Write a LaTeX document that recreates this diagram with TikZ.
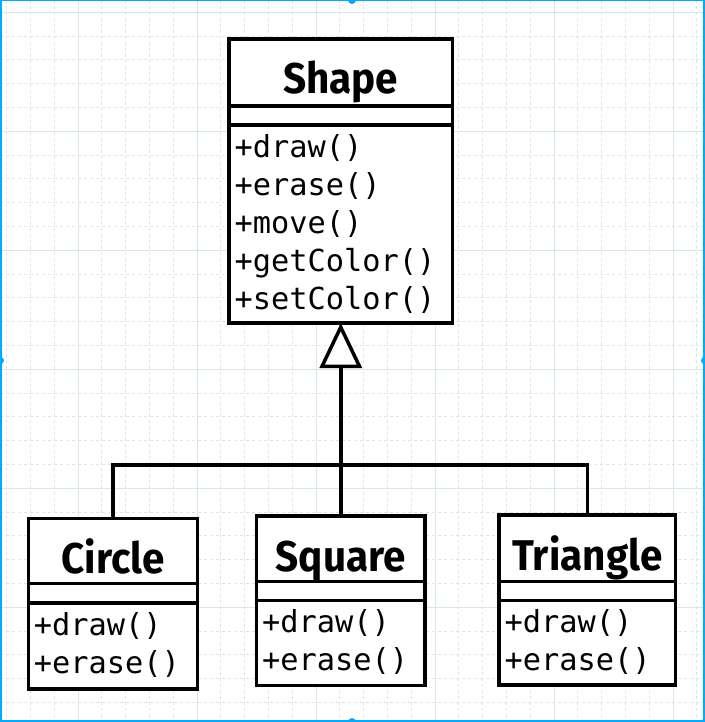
\documentclass[tikz,border=0pt]{standalone}
\usepackage{fontspec}
\newfontfamily\titlefont[FakeStretch=0.94]{Fira Sans}
\newfontfamily\monofont{DejaVu Sans Mono}
\usetikzlibrary{arrows.meta}
\definecolor{gridc}{RGB}{216,232,230}
\definecolor{selc}{RGB}{0,172,255}
\tikzset{
  classbox/.style={draw=black, line width=3.5bp, fill=white, anchor=north west, inner sep=0pt, outer sep=0pt},
  classline/.style={draw=black, line width=3.5bp},
  titletext/.style={font=\titlefont\bfseries\fontsize{43bp}{43bp}\selectfont, anchor=base, inner sep=0pt},
  methtext/.style={font=\monofont\fontsize{30.3bp}{30.3bp}\selectfont, anchor=base west, inner sep=0pt},
  conn/.style={draw=black, line width=3.5bp},
  minorgrid/.style={draw=gridc, line width=1bp, dash pattern=on 3bp off 3bp},
  majorgrid/.style={draw=gridc, line width=1bp},
}
\newcommand\umlclass[9]{%
  \node[classbox, minimum width={(#4-#2)*1bp}, minimum height={(#5-#3)*1bp}] (#1) at (#2,#3) {};
  \begin{scope}
    \clip (#2,#3) rectangle (#4,#6);
    \node[titletext] (#1-title) at ({(#2+#4)/2},{#3+55}) {#8};
  \end{scope}
  \draw[classline] (#2,#6) -- (#4,#6);
  \draw[classline] (#2,#7) -- (#4,#7);
  \foreach \m [count=\i from 0] in {#9} {\node[methtext] (#1-m\i) at ({#2+5.5},{#7+32.5+38*\i}) {\m};}
}
\begin{document}
\begin{tikzpicture}[x=1bp, y=-1bp]
\useasboundingbox (0,0) rectangle (705,722);
\fill[white] (0,0) rectangle (705,722);
% grid
\foreach \k in {0,...,29} {
  \draw[minorgrid] ({6.6+23.8*\k},0) -- ({6.6+23.8*\k},722);
  \draw[minorgrid] (0,{12.3+23.8*\k}) -- (705,{12.3+23.8*\k});
}
\foreach \k in {3,8,13,18,23,28} {
  \draw[majorgrid] ({6.6+23.8*\k},0) -- ({6.6+23.8*\k},722);
}
\foreach \k in {0,5,10,15,20,25} {
  \draw[majorgrid] (0,{12.3+23.8*\k}) -- (705,{12.3+23.8*\k});
}
% selection frame
\draw[selc, line width=1.6bp] (0.8,0.6) rectangle (704.2,721.2);
\begin{scope}
  \clip (0,0) rectangle (705,722);
  \fill[selc] (352,0) circle (4bp);
  \fill[selc] (352,722) circle (4bp);
  \fill[selc] (0,360.5) circle (4bp);
  \fill[selc] (705,360.5) circle (4bp);
\end{scope}
% classes
\umlclass{shape}{229}{39}{452.5}{323}{106}{125}{Shape}{+draw(),+erase(),+move(),+getColor(),+setColor()}
\umlclass{circle}{28.3}{518.3}{197.7}{689}{583.7}{603}{Circle}{+draw(),+erase()}
\umlclass{square}{256.5}{516}{425}{685.7}{581.7}{600.3}{Square}{+draw(),+erase()}
\umlclass{triangle}{499}{515}{675.7}{685}{581.7}{600.3}{Triangle}{+draw(),+erase()}
% connectors
\coordinate (bar) at (340.75,465);
\draw[conn] (circle.north) |- (bar) -| (triangle.north);
\draw[conn, -{Triangle[width=42bp, length=45bp, fill=white, line join=miter]}] (square.north) -- (shape.south);
\end{tikzpicture}
\end{document}
